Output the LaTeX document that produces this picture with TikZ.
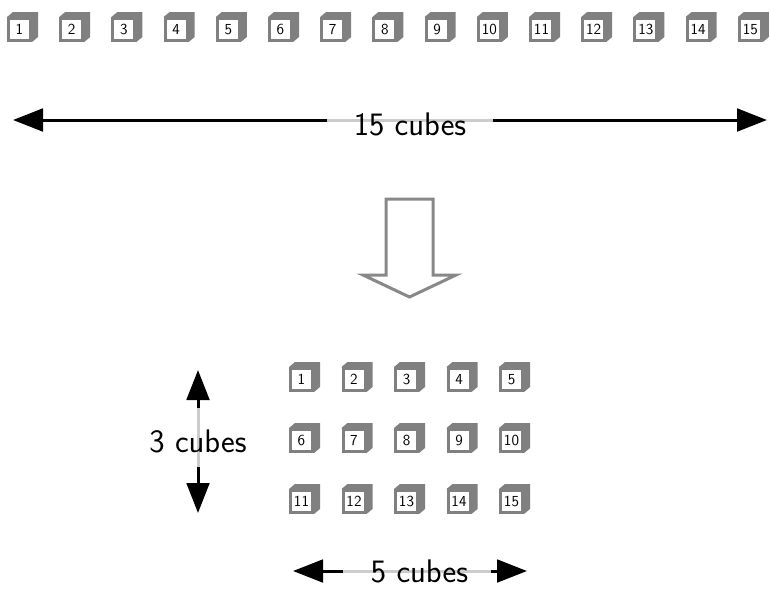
\documentclass[tikz,border=0pt]{standalone}
\usepackage{fontspec}
\usepackage{tikz}
\usetikzlibrary{arrows.meta, backgrounds}
\renewcommand{\familydefault}{\sfdefault}
\definecolor{cubegray}{RGB}{128,128,128}
\definecolor{linegray}{RGB}{204,204,204}
\definecolor{arrowgray}{RGB}{136,136,136}

\begin{document}
\begin{tikzpicture}[x=0.75pt, y=-0.75pt,
  cube/.style={rectangle, draw=cubegray, fill=white, line width=2.25pt,
               minimum size=16.5pt, inner sep=0pt,
               font=\fontsize{11.5}{13}\selectfont},
  side/.style={fill=cubegray},
  dimarr/.style={-{Triangle[length=22.5pt, width=17pt]}, line width=2.25pt},
  faint/.style={draw=linegray, line width=2.25pt},
  lbl/.style={font=\fontsize{24.5}{29}\selectfont, anchor=base, inner sep=0pt},
  bigarrow/.style={draw=arrowgray, line width=2.25pt, miter limit=10}
]
  \useasboundingbox (0,0) rectangle (770,590);

  % row of 15 cubes
  \foreach \i in {1,...,15}
    \node[cube] (top\i) at ({19.5+52.2*(\i-1)},29.5) {\i};

  % 3 x 5 block
  \foreach \r in {0,1,2}
    \foreach \c in {0,...,4} {
      \pgfmathtruncatemacro{\n}{5*\r+\c+1}
      \node[cube] (grid\n) at ({301.5+52.5*\c},{379.5+61*\r}) {\n};
    }

  % top and right faces
  \begin{scope}[on background layer]
    \foreach \i in {1,...,15} {
      \fill[side] (top\i.north west) -- ++(6,-5) -| ([shift={(6,-5)}]top\i.south east)
        -- (top\i.south east) -- cycle;
      \fill[side] (grid\i.north west) -- ++(6,-5) -| ([shift={(6,-5)}]grid\i.south east)
        -- (grid\i.south east) -- cycle;
    }
  \end{scope}

  % 15 cubes
  \coordinate (w15) at (13,120);
  \coordinate (e15) at (767,120);
  \coordinate (gw15) at (327,120);
  \coordinate (ge15) at (493,120);
  \draw[faint] (gw15) -- (ge15);
  \draw[dimarr] (gw15) -- (w15);
  \draw[dimarr] (ge15) -- (e15);
  \node[lbl] (t15) at (410,135.5) {15 cubes};

  % hollow arrow
  \draw[bigarrow] (386,199) -- (433,199) -- (433,275) -- (456,275)
    -- (409.5,297) -- (363,275) -- (386,275) -- cycle;

  % 3 cubes
  \coordinate (n3) at (198,370);
  \coordinate (s3) at (198,513);
  \coordinate (gn3) at (198,408);
  \coordinate (gs3) at (198,467);
  \draw[faint] (gn3) -- (gs3);
  \draw[dimarr] (gn3) -- (n3);
  \draw[dimarr] (gs3) -- (s3);
  \node[lbl] (t3) at (198,452) {3 cubes};

  % 5 cubes
  \coordinate (w5) at (293,571);
  \coordinate (e5) at (527,571);
  \coordinate (gw5) at (343,571);
  \coordinate (ge5) at (491,571);
  \draw[faint] (gw5) -- (ge5);
  \draw[dimarr] (gw5) -- (w5);
  \draw[dimarr] (ge5) -- (e5);
  \node[lbl] (t5) at (419.5,582) {5 cubes};
\end{tikzpicture}
\end{document}
